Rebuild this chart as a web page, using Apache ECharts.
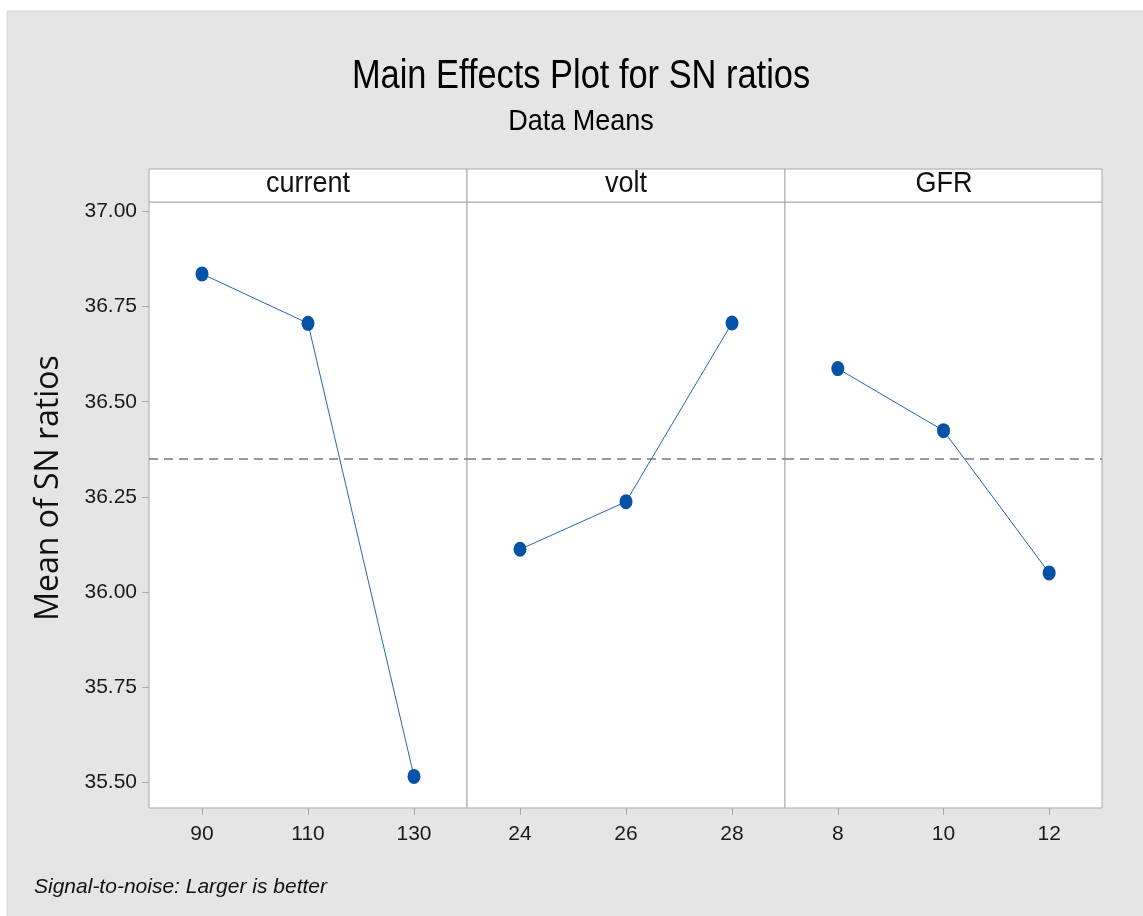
<!DOCTYPE html>
<html>
<head>
<meta charset="utf-8">
<script src="https://cdn.jsdelivr.net/npm/echarts@6/dist/echarts.min.js"></script>
<style>
  html, body { margin: 0; padding: 0; background: #fff; }
  #main { width: 1143px; height: 916px; }
</style>
</head>
<body>
<div id="main"></div>
<script>
// factors and levels
var factorNames = ['current', 'volt', 'GFR']
var currentLevels = ['90', '110', '130']
var voltLevels = ['24', '26', '28']
var gfrLevels = ['8', '10', '12']

// mean SN ratios
var currentMeans = [36.836, 36.706, 35.515]
var voltMeans = [36.112, 36.237, 36.707]
var gfrMeans = [36.587, 36.424, 36.050]

var grandMean = 36.35
var yTicks = [35.5, 35.75, 36.0, 36.25, 36.5, 36.75, 37.0]

var chart = echarts.init(document.getElementById('main'))

var levels = [currentLevels, voltLevels, gfrLevels]
var means = [currentMeans, voltMeans, gfrMeans]

var panelLeft = 149
var panelW = 318
var plotTop = 202
var plotBottom = 808
var sans = '"Liberation Sans", Arial, sans-serif'

var grids = [], xAxes = [], yAxes = [], series = []
for (var i = 0; i < 3; i++) {
  grids.push({
    left: panelLeft + i * panelW,
    top: plotTop,
    width: i == 2 ? panelW - 1 : panelW,
    height: plotBottom - plotTop,
    show: true,
    backgroundColor: '#fff',
    borderColor: '#a8a8a8',
    borderWidth: 1
  })
  xAxes.push({
    type: 'category',
    gridIndex: i,
    data: levels[i],
    boundaryGap: true,
    axisLine: { show: false },
    axisTick: { show: true, alignWithLabel: true, length: 7, lineStyle: { color: '#a8a8a8' } },
    axisLabel: { color: '#1a1a1a', fontFamily: sans, fontSize: 21, margin: 16 },
    splitLine: { show: false }
  })
  yAxes.push({
    type: 'value',
    gridIndex: i,
    min: 35.432,
    max: 37.025,
    show: i == 0,
    axisLine: { show: false },
    axisTick: { show: true, length: 7, customValues: yTicks, lineStyle: { color: '#a8a8a8' } },
    axisLabel: {
      color: '#1a1a1a', fontFamily: sans, fontSize: 21, margin: 12,
      customValues: yTicks,
      formatter: function (v) { return v.toFixed(2) }
    },
    splitLine: { show: false }
  })
  series.push({
    name: factorNames[i],
    type: 'line',
    xAxisIndex: i,
    yAxisIndex: i,
    data: means[i],
    symbol: 'circle',
    symbolSize: [13, 15],
    itemStyle: { color: '#0553a8' },
    lineStyle: { color: '#2466b8', width: 1 },
    animation: false,
    z: 5,
    markLine: {
      silent: true,
      symbol: 'none',
      label: { show: false },
      lineStyle: { color: '#9a9a9a', type: [9, 6], width: 2 },
      data: [{ yAxis: grandMean }]
    }
  })
}

var graphics = [
  {
    type: 'rect', z: -10, silent: true,
    shape: { x: 7, y: 11, width: 1140, height: 910 },
    style: { fill: '#e5e5e5', stroke: '#d4d4d4', lineWidth: 1 }
  },
  // titles, condensed a bit to look like the original narrow face
  {
    type: 'text', silent: true, x: 581, y: 77, scaleX: 0.86,
    style: {
      text: 'Main Effects Plot for SN ratios', fill: '#000', font: '40px ' + sans,
      textAlign: 'center', textVerticalAlign: 'middle'
    }
  },
  {
    type: 'text', silent: true, x: 581, y: 122, scaleX: 0.9,
    style: {
      text: 'Data Means', fill: '#000', font: '30px ' + sans,
      textAlign: 'center', textVerticalAlign: 'middle'
    }
  }
]
// strip headers over each panel
for (var j = 0; j < 3; j++) {
  graphics.push({
    type: 'rect', silent: true,
    shape: { x: panelLeft + j * panelW, y: 169, width: j == 2 ? panelW - 1 : panelW, height: 33 },
    style: { fill: '#fff', stroke: '#a8a8a8', lineWidth: 1 }
  })
  graphics.push({
    type: 'text', silent: true, scaleX: 0.9,
    x: panelLeft + j * panelW + panelW / 2, y: 184,
    style: {
      text: factorNames[j], fill: '#111', font: '30px ' + sans,
      textAlign: 'center', textVerticalAlign: 'middle'
    }
  })
}
graphics.push({
  type: 'text', silent: true,
  x: 49, y: 488, rotation: Math.PI / 2,
  style: {
    text: 'Mean of SN ratios', fill: '#111', font: '32px "Open Sans", sans-serif',
    textAlign: 'center', textVerticalAlign: 'middle'
  }
})
graphics.push({
  type: 'text', silent: true,
  x: 34, y: 887,
  style: {
    text: 'Signal-to-noise: Larger is better', fill: '#111',
    font: 'italic 21px ' + sans,
    textAlign: 'left', textVerticalAlign: 'middle'
  }
})

var option = {
  backgroundColor: '#fff',
  animation: false,
  grid: grids,
  xAxis: xAxes,
  yAxis: yAxes,
  series: series,
  graphic: graphics
}
chart.setOption(option)
</script>
</body>
</html>
